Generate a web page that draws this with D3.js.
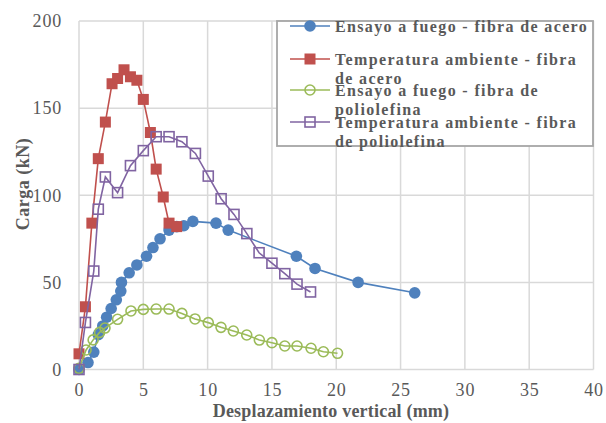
<!DOCTYPE html>
<html>
<head>
<meta charset="utf-8">
<script src="https://cdn.jsdelivr.net/npm/d3@7"></script>
<style>
  body { margin: 0; background: #fff; }
  svg { display: block; }
  svg text { font-family: "Liberation Serif", "Times New Roman", Times, serif !important; fill: #595959; }
</style>
</head>
<body>
<div id="chart"></div>
<script>
// Desplazamiento vertical (mm), Carga (kN)
const fuegoAcero = [
  [0, 0], [0.7, 4], [1.15, 10], [1.5, 20], [1.85, 25], [2.15, 30], [2.5, 35],
  [2.9, 40], [3.25, 45], [3.3, 50], [3.9, 55.5], [4.5, 60], [5.25, 65],
  [5.75, 70], [6.3, 75], [7, 80], [7.6, 82], [8.15, 82.5], [8.85, 85],
  [10.65, 84], [11.6, 80], [16.9, 65], [18.35, 58], [21.7, 50], [26.1, 44]
];
const ambienteAcero = [
  [0, 9], [0.5, 36], [1, 84], [1.5, 121], [2.05, 142], [2.57, 164], [3, 167],
  [3.5, 172], [4, 168], [4.5, 166], [5, 155], [5.55, 136], [6, 115],
  [6.55, 99], [7, 84], [7.6, 82]
];
const fuegoPoliolefina = [
  [0, 0.7], [0.55, 11.2], [1.1, 17], [1.6, 21.3], [2.02, 23.8], [3, 28.8],
  [4.04, 33.6], [5, 34.5], [6, 34.7], [7, 34.7], [8, 32.2], [9.02, 29],
  [10.05, 26.9], [11.04, 24.2], [12, 22.1], [13.04, 19.8], [14.02, 16.9],
  [15, 15.4], [16, 13.5], [16.95, 13.5], [18.04, 12.2], [19, 10.2], [20.1, 9.3]
];
const ambientePoliolefina = [
  [0, 0], [0.5, 27], [1.15, 56.5], [1.5, 92], [2.05, 110.5], [3, 101.5],
  [4, 117], [5, 125.6], [6, 133.6], [7, 133.6], [8, 130.7], [9.05, 124],
  [10.05, 111], [11.05, 98], [12.05, 89], [13.05, 78], [14, 67], [15, 61],
  [16, 55], [16.95, 49], [18, 44.5]
];

const xTicks = [0, 5, 10, 15, 20, 25, 30, 35, 40];
const yTicks = [0, 50, 100, 150, 200];

const series = [
  { data: fuegoAcero, color: '#4f81bd', marker: 'circle', fill: true,
    label: ['Ensayo a fuego - fibra de acero'] },
  { data: ambienteAcero, color: '#c0504d', marker: 'square', fill: true,
    label: ['Temperatura ambiente - fibra', 'de acero'] },
  { data: fuegoPoliolefina, color: '#9bbb59', marker: 'circle', fill: false,
    label: ['Ensayo a fuego - fibra de', 'poliolefina'] },
  { data: ambientePoliolefina, color: '#8064a2', marker: 'square', fill: false,
    label: ['Temperatura ambiente - fibra', 'de poliolefina'] }
];

const width = 606, height = 423;
const margin = { top: 21, right: 12.5, bottom: 53.5, left: 79 };
const serif = '"Liberation Serif", "Times New Roman", Times, serif';

const svg = d3.select('#chart').append('svg')
  .attr('width', width)
  .attr('height', height);

const x = d3.scaleLinear().domain([0, 40]).range([margin.left, width - margin.right]);
const y = d3.scaleLinear().domain([0, 200]).range([height - margin.bottom, margin.top]);

// grid
const grid = svg.append('g').attr('class', 'grid');
grid.selectAll('.vgrid').data(xTicks).enter().append('line')
  .attr('x1', d => x(d)).attr('x2', d => x(d))
  .attr('y1', y(0)).attr('y2', y(200))
  .attr('stroke', '#d9d9d9').attr('stroke-width', 1.5);
grid.selectAll('.hgrid').data(yTicks).enter().append('line')
  .attr('x1', x(0)).attr('x2', x(40))
  .attr('y1', d => y(d)).attr('y2', d => y(d))
  .attr('stroke', '#d9d9d9').attr('stroke-width', 1.5);

// axes
const xAxis = svg.append('g')
  .attr('transform', `translate(0,${y(0)})`)
  .call(d3.axisBottom(x).tickValues(xTicks).tickSize(0).tickPadding(14));
const yAxis = svg.append('g')
  .attr('transform', `translate(${x(0)},0)`)
  .call(d3.axisLeft(y).tickValues(yTicks).tickSize(0).tickPadding(17));
[xAxis, yAxis].forEach(a => {
  a.attr('font-family', serif).attr('font-size', 18);
  a.select('.domain').remove();
  a.selectAll('text')
    .style('letter-spacing', '0.8px')
    .attr('fill', '#595959');
});

// axis titles
svg.append('text')
  .attr('x', 331).attr('y', 417)
  .attr('text-anchor', 'middle')
  .style('font-size', '18px').style('font-weight', 'bold')
  .style('letter-spacing', '0.2px')
  .text('Desplazamiento vertical (mm)');
svg.append('text')
  .attr('transform', 'translate(29,184) rotate(-90)')
  .attr('text-anchor', 'middle')
  .style('font-size', '18px').style('font-weight', 'bold')
  .style('letter-spacing', '0.5px')
  .text('Carga (kN)');

const drawMarker = (g, s, cx, cy) => {
  if (s.marker === 'circle') {
    g.append('circle')
      .attr('cx', cx).attr('cy', cy)
      .attr('r', s.fill ? 5.8 : 5)
      .attr('fill', s.fill ? s.color : 'none')
      .attr('stroke', s.color)
      .attr('stroke-width', s.fill ? 0 : 1.6);
  } else {
    const size = s.fill ? 11 : 10;
    g.append('rect')
      .attr('x', cx - size / 2).attr('y', cy - size / 2)
      .attr('width', size).attr('height', size)
      .attr('fill', s.fill ? s.color : 'none')
      .attr('stroke', s.color)
      .attr('stroke-width', s.fill ? 0 : 1.6);
  }
};

const line = d3.line().x(d => x(d[0])).y(d => y(d[1]));

series.forEach(s => {
  const g = svg.append('g');
  g.append('path')
    .datum(s.data)
    .attr('d', line)
    .attr('fill', 'none')
    .attr('stroke', s.color)
    .attr('stroke-width', 1.6);
  s.data.forEach(d => drawMarker(g, s, x(d[0]), y(d[1])));
});

// legend
const legend = svg.append('g');
legend.append('rect')
  .attr('x', 277).attr('y', 21)
  .attr('width', 316).attr('height', 125)
  .attr('fill', '#fff')
  .attr('stroke', '#a6a6a6')
  .attr('stroke-width', 1.8);

const legendY = [26, 59, 90, 122];
series.forEach((s, i) => {
  const cy = legendY[i];
  legend.append('line')
    .attr('x1', 290).attr('x2', 330)
    .attr('y1', cy).attr('y2', cy)
    .attr('stroke', s.color).attr('stroke-width', 1.6);
  drawMarker(legend, s, 310, cy);
  s.label.forEach((t, j) => {
    legend.append('text')
      .attr('x', 335).attr('y', cy + 5.5 + j * 19)
      .style('font-size', '16px').style('font-weight', 'bold')
      .style('letter-spacing', '1.35px')
      .text(t);
  });
});
</script>
</body>
</html>
